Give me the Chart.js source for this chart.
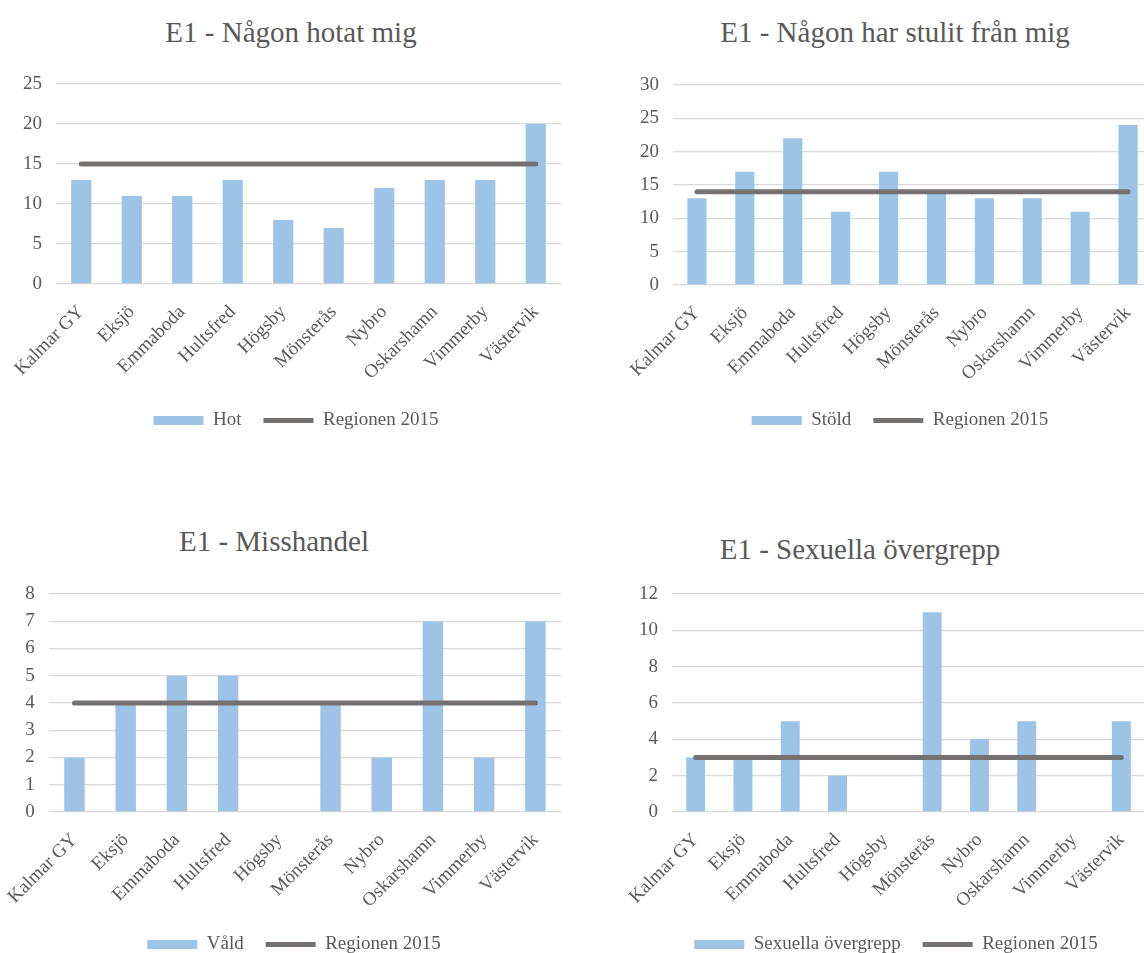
<!DOCTYPE html>
<html lang="sv">
<head>
<meta charset="UTF-8">
<title>E1</title>
<script src="https://cdn.jsdelivr.net/npm/chart.js@4/dist/chart.umd.min.js"></script>
<style>
  html, body {margin: 0; padding: 0; background: #fff; overflow: hidden;}
  body {width: 1144px; height: 953px; position: relative;}
  .box {position: absolute;}
  .title {position: absolute; font-family: "Liberation Serif", "Times New Roman", serif; font-size: 29px;
          color: #595959; white-space: nowrap; line-height: 1; transform: translate(-50%, -50%);}
</style>
</head>
<body>
<div class="title" style="left:291px; top:32px">E1 - Någon hotat mig</div>
<div class="title" style="left:895px; top:32px">E1 - Någon har stulit från mig</div>
<div class="title" style="left:274px; top:541px">E1 - Misshandel</div>
<div class="title" style="left:860px; top:549px">E1 - Sexuella övergrepp</div>

<div class="box" style="left:0; top:0; width:592px; height:440px"><canvas id="c1"></canvas></div>
<div class="box" style="left:580px; top:0; width:640px; height:440px"><canvas id="c2"></canvas></div>
<div class="box" style="left:0; top:510px; width:588px; height:454px"><canvas id="c3"></canvas></div>
<div class="box" style="left:580px; top:510px; width:632px; height:454px"><canvas id="c4"></canvas></div>

<script>
const schools = ['Kalmar GY', 'Eksjö', 'Emmaboda', 'Hultsfred', 'Högsby', 'Mönsterås', 'Nybro', 'Oskarshamn', 'Vimmerby', 'Västervik'];

const hot        = [13, 11, 11, 13, 8, 7, 12, 13, 13, 20];
const hotRegion  = [15, 15, 15, 15, 15, 15, 15, 15, 15, 15];

const stold       = [13, 17, 22, 11, 17, 14, 13, 13, 11, 24];
const stoldRegion = [14, 14, 14, 14, 14, 14, 14, 14, 14, 14];

const vald       = [2, 4, 5, 5, 0, 4, 2, 7, 2, 7];
const valdRegion = [4, 4, 4, 4, 4, 4, 4, 4, 4, 4];

const sexuella       = [3, 3, 5, 2, 0, 11, 4, 5, 0, 5];
const sexuellaRegion = [3, 3, 3, 3, 3, 3, 3, 3, 3, 3];

const regionLabel = 'Regionen 2015';

Chart.defaults.font.family = '"Liberation Serif", "Times New Roman", serif';
Chart.defaults.font.size = 19;
Chart.defaults.color = '#595959';

function makeChart(id, barLabel, bars, region, yMax, yStep, s) {
    return new Chart(id, {
        type: 'bar',
        data: {
            labels: schools,
            datasets: [
                {
                    label: barLabel,
                    data: bars,
                    backgroundColor: '#9DC3E6',
                    borderWidth: 0,
                    pointStyle: 'rect',
                    categoryPercentage: 1,
                    barPercentage: 0.4,
                    order: 2
                },
                {
                    type: 'line',
                    label: regionLabel,
                    data: region,
                    borderColor: '#767171',
                    backgroundColor: '#767171',
                    borderWidth: 5,
                    borderCapStyle: 'round',
                    pointRadius: 0,
                    pointStyle: 'line',
                    order: 1
                }
            ]
        },
        options: {
            responsive: true,
            maintainAspectRatio: false,
            animation: false,
            layout: {padding: {top: s.top, bottom: 0, left: 0, right: 0}},
            plugins: {
                tooltip: {enabled: false},
                legend: {
                    position: 'bottom',
                    labels: {
                        usePointStyle: true,
                        pointStyleWidth: 50,
                        boxHeight: 9,
                        padding: 22,
                        color: '#595959',
                        sort: (a, b) => a.datasetIndex - b.datasetIndex
                    }
                }
            },
            scales: {
                x: {
                    grid: {display: false},
                    border: {display: false},
                    ticks: {autoSkip: false, minRotation: 45, maxRotation: 45, padding: 9},
                    afterFit: (sc) => { sc.height = s.xh; }
                },
                y: {
                    min: 0,
                    max: yMax,
                    ticks: {stepSize: yStep, padding: 14},
                    grid: {color: '#d9d9d9', lineWidth: 1.3, drawTicks: false},
                    border: {display: false},
                    afterFit: (sc) => { sc.width = s.yw; }
                },
                pad: {
                    position: 'right',
                    ticks: {display: false},
                    grid: {display: false},
                    border: {display: false},
                    afterFit: (sc) => { sc.width = s.rw; }
                }
            }
        }
    });
}

makeChart('c1', 'Hot', hot, hotRegion, 25, 5, {top: 84, xh: 105, yw: 56, rw: 31});
makeChart('c2', 'Stöld', stold, stoldRegion, 30, 5, {top: 85, xh: 104, yw: 93, rw: 68});
makeChart('c3', 'Våld', vald, valdRegion, 8, 1, {top: 84, xh: 101, yw: 48, rw: 27});
makeChart('c4', 'Sexuella övergrepp', sexuella, sexuellaRegion, 12, 2, {top: 84, xh: 101, yw: 92, rw: 67});
</script>
</body>
</html>
